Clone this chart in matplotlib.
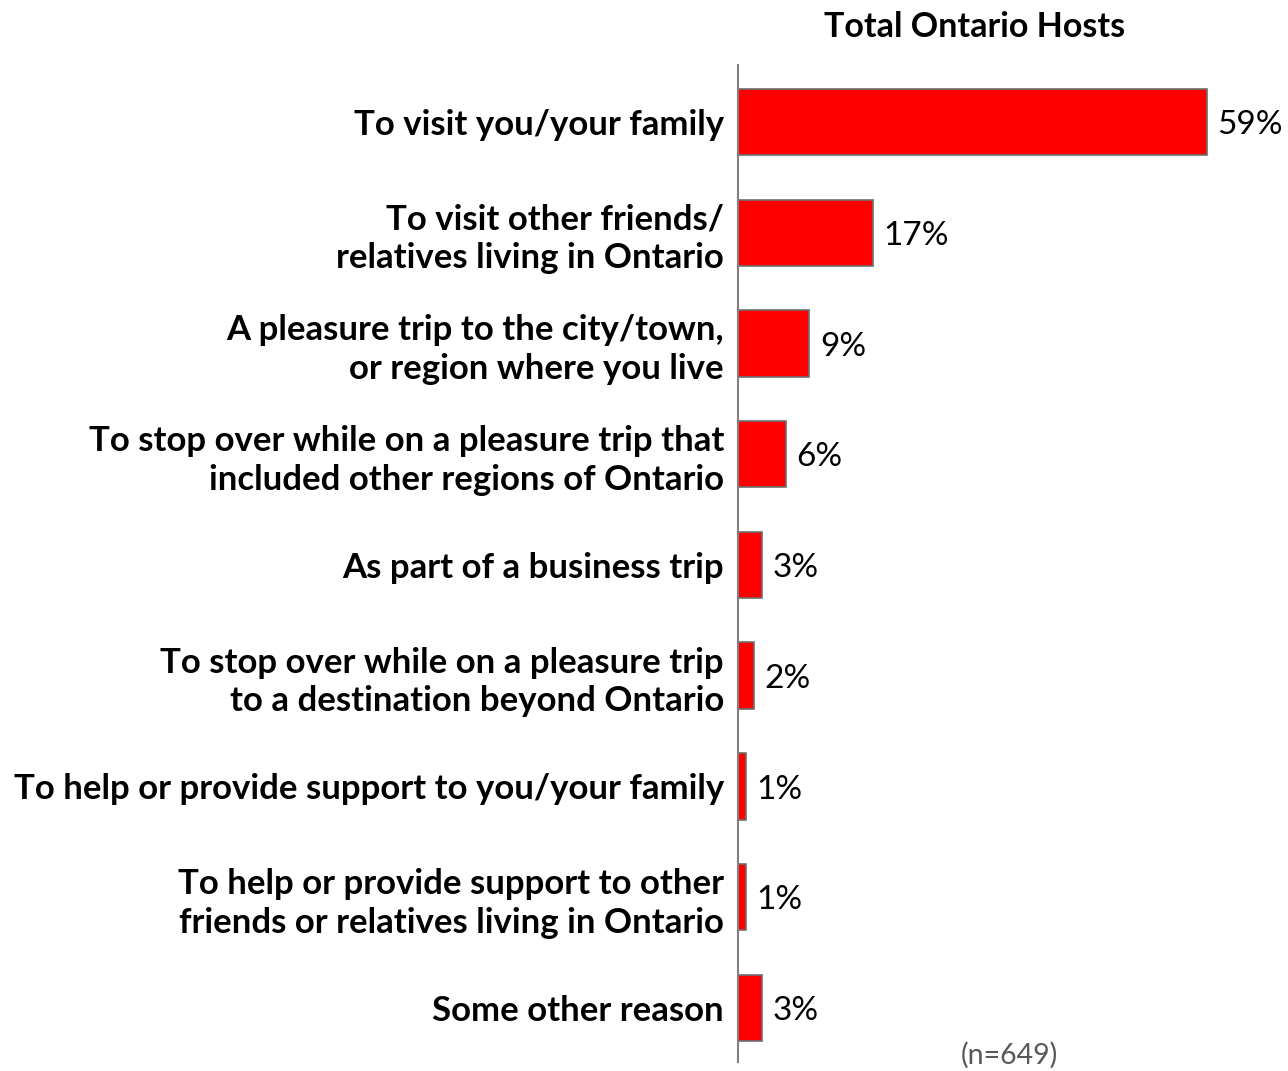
import numpy as np
import matplotlib.pyplot as plt

reasons = [
    "To visit you/your family",
    "To visit other friends/\nrelatives living in Ontario",
    "A pleasure trip to the city/town,\nor region where you live",
    "To stop over while on a pleasure trip that\nincluded other regions of Ontario",
    "As part of a business trip",
    "To stop over while on a pleasure trip\nto a destination beyond Ontario",
    "To help or provide support to you/your family",
    "To help or provide support to other\nfriends or relatives living in Ontario",
    "Some other reason",
]
shares = [59, 17, 9, 6, 3, 2, 1, 1, 3]

title = "Total Ontario Hosts"
base_note = "(n=649)"

plt.rcParams['font.family'] = ['Lato', 'DejaVu Sans']

W, H = 1288, 1071
fig = plt.figure(figsize=(W / 100, H / 100), dpi=100)
ax = fig.add_axes([738 / W, 9 / H, 548 / W, 997 / H])

y = np.arange(len(reasons))
ax.barh(y, shares, height=0.6, color='#FF0000', edgecolor='#6E6E6E', linewidth=1.2)

ax.set_xlim(0, 69)
ax.set_ylim(len(reasons) - 0.51, -0.515)

for yi, v in zip(y, shares):
    ax.text(v + 1.3, yi + 0.03, f"{v}%", va='center', ha='left', fontsize=24, color='black')

ax.set_yticks(y)
ax.set_yticklabels(reasons, fontsize=25, fontweight='bold', linespacing=1.25)
ax.tick_params(axis='y', length=0, pad=10)
ax.set_xticks([])

for side in ['top', 'right', 'bottom']:
    ax.spines[side].set_visible(False)
ax.spines['left'].set_color('#808080')
ax.spines['left'].set_linewidth(1.5)

fig.text(975 / W, 1 - 27 / H, title, ha='center', va='center', fontsize=24.5, fontweight='bold')
fig.text(1009 / W, 1 - 1055 / H, base_note, ha='center', va='center', fontsize=20.5, color='#595959')

fig.savefig('out.png', dpi=100)
